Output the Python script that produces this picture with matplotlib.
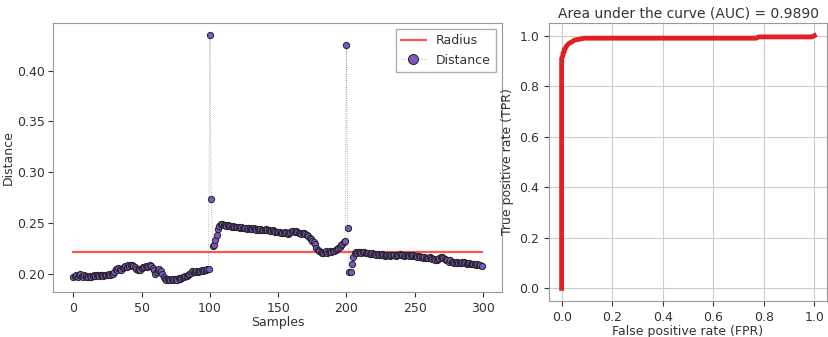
import numpy as np
import matplotlib
matplotlib.use('Agg')
import matplotlib.pyplot as plt

# distance of each sample to the centre
distance = [
    0.197, 0.198, 0.199, 0.197, 0.199, 0.200, 0.198, 0.197, 0.199, 0.198,
    0.197, 0.197, 0.198, 0.197, 0.198, 0.199, 0.198, 0.199, 0.199, 0.198,
    0.199, 0.199, 0.198, 0.199, 0.199, 0.199, 0.200, 0.199, 0.200, 0.200,
    0.202, 0.205, 0.204, 0.206, 0.205, 0.204, 0.206, 0.207, 0.208, 0.207,
    0.209, 0.208, 0.209, 0.209, 0.208, 0.207, 0.205, 0.204, 0.205, 0.204,
    0.206, 0.207, 0.207, 0.208, 0.207, 0.208, 0.209, 0.208, 0.206, 0.204,
    0.200, 0.202, 0.204, 0.205, 0.203, 0.200, 0.197, 0.195, 0.194, 0.195,
    0.194, 0.194, 0.195, 0.194, 0.195, 0.195, 0.194, 0.196, 0.195, 0.196,
    0.197, 0.197, 0.198, 0.198, 0.199, 0.200, 0.201, 0.203, 0.202, 0.202,
    0.203, 0.202, 0.203, 0.203, 0.204, 0.203, 0.204, 0.204, 0.205, 0.205,
    0.435, 0.274, 0.227, 0.228, 0.233, 0.238, 0.244, 0.247, 0.249, 0.249,
    0.248, 0.248, 0.247, 0.248, 0.247, 0.247, 0.246, 0.247, 0.246, 0.246,
    0.246, 0.246, 0.245, 0.246, 0.245, 0.245, 0.245, 0.244, 0.245, 0.245,
    0.244, 0.244, 0.245, 0.244, 0.243, 0.244, 0.243, 0.244, 0.243, 0.243,
    0.243, 0.244, 0.243, 0.243, 0.242, 0.242, 0.243, 0.242, 0.241, 0.241,
    0.241, 0.241, 0.240, 0.240, 0.240, 0.241, 0.240, 0.239, 0.240, 0.241,
    0.242, 0.242, 0.241, 0.242, 0.241, 0.240, 0.240, 0.239, 0.240, 0.240,
    0.239, 0.238, 0.237, 0.235, 0.234, 0.232, 0.231, 0.229, 0.225, 0.223,
    0.222, 0.221, 0.220, 0.220, 0.221, 0.222, 0.220, 0.221, 0.222, 0.221,
    0.222, 0.222, 0.223, 0.224, 0.225, 0.226, 0.228, 0.229, 0.231, 0.232,
    0.425, 0.245, 0.202, 0.202, 0.210, 0.216, 0.220, 0.221, 0.220, 0.221,
    0.221, 0.220, 0.221, 0.221, 0.220, 0.220, 0.220, 0.219, 0.219, 0.220,
    0.219, 0.219, 0.218, 0.219, 0.218, 0.218, 0.219, 0.218, 0.217, 0.218,
    0.218, 0.218, 0.217, 0.218, 0.218, 0.218, 0.217, 0.218, 0.218, 0.219,
    0.218, 0.218, 0.217, 0.218, 0.218, 0.218, 0.217, 0.218, 0.217, 0.218,
    0.217, 0.217, 0.216, 0.217, 0.216, 0.216, 0.215, 0.216, 0.215, 0.215,
    0.215, 0.216, 0.215, 0.214, 0.214, 0.213, 0.213, 0.214, 0.215, 0.216,
    0.216, 0.215, 0.214, 0.213, 0.213, 0.212, 0.213, 0.212, 0.212, 0.211,
    0.211, 0.212, 0.211, 0.211, 0.211, 0.212, 0.212, 0.211, 0.210, 0.211,
    0.211, 0.210, 0.210, 0.210, 0.210, 0.209, 0.210, 0.209, 0.209, 0.208,
]
radius = 0.2217

# ROC curve points
fpr = [0.0, 0.0, 0.005, 0.005, 0.01, 0.01, 0.015, 0.02, 0.025, 0.03, 0.04,
       0.05, 0.07, 0.09, 0.77, 0.78, 0.99, 1.0]
tpr = [0.0, 0.91, 0.92, 0.93, 0.935, 0.945, 0.95, 0.96, 0.965, 0.97, 0.975,
       0.982, 0.986, 0.99, 0.99, 0.995, 0.995, 1.0]
auc = 0.9890

plt.rcParams['font.size'] = 9
plt.rcParams['text.color'] = '#333333'
plt.rcParams['axes.labelcolor'] = '#333333'
plt.rcParams['xtick.color'] = '#333333'
plt.rcParams['ytick.color'] = '#333333'
plt.rcParams['axes.edgecolor'] = '#999999'

fig = plt.figure(figsize=(8.29, 3.37), dpi=100)

samples = np.arange(len(distance))
ax1 = fig.add_axes([53/829, 1-292/337, 449/829, 269/337])
ax1.plot(samples, [radius]*len(samples), color='#ff5555', lw=1.6, label='Radius')
ax1.plot(samples, distance, ':', color='#999999', lw=0.6,
         marker='o', markersize=4.5, markerfacecolor='#7e57c2',
         markeredgecolor='#222222', markeredgewidth=0.7, label='Distance')
ax1.set_xlabel('Samples', labelpad=1)
ax1.set_ylabel('Distance', labelpad=2)
ax1.set_xticks([0, 50, 100, 150, 200, 250, 300])
ax1.set_yticks([0.20, 0.25, 0.30, 0.35, 0.40])
ax1.tick_params(axis='y', pad=2)
ax1.legend(loc='upper right', markerscale=1.6, fancybox=False, edgecolor='#999999')

ax2 = fig.add_axes([549/829, 1-301/337, 278/829, 278/337])
ax2.plot(fpr, tpr, color='#dd2222', lw=3.5)
ax2.grid(True, color='#cccccc', lw=0.8)
ax2.set_xlabel('False positive rate (FPR)', labelpad=1)
ax2.set_ylabel('True positive rate (TPR)')
ax2.set_title('Area under the curve (AUC) = %.4f' % auc, fontsize=10, pad=4)

fig.savefig('out.png', dpi=100)
